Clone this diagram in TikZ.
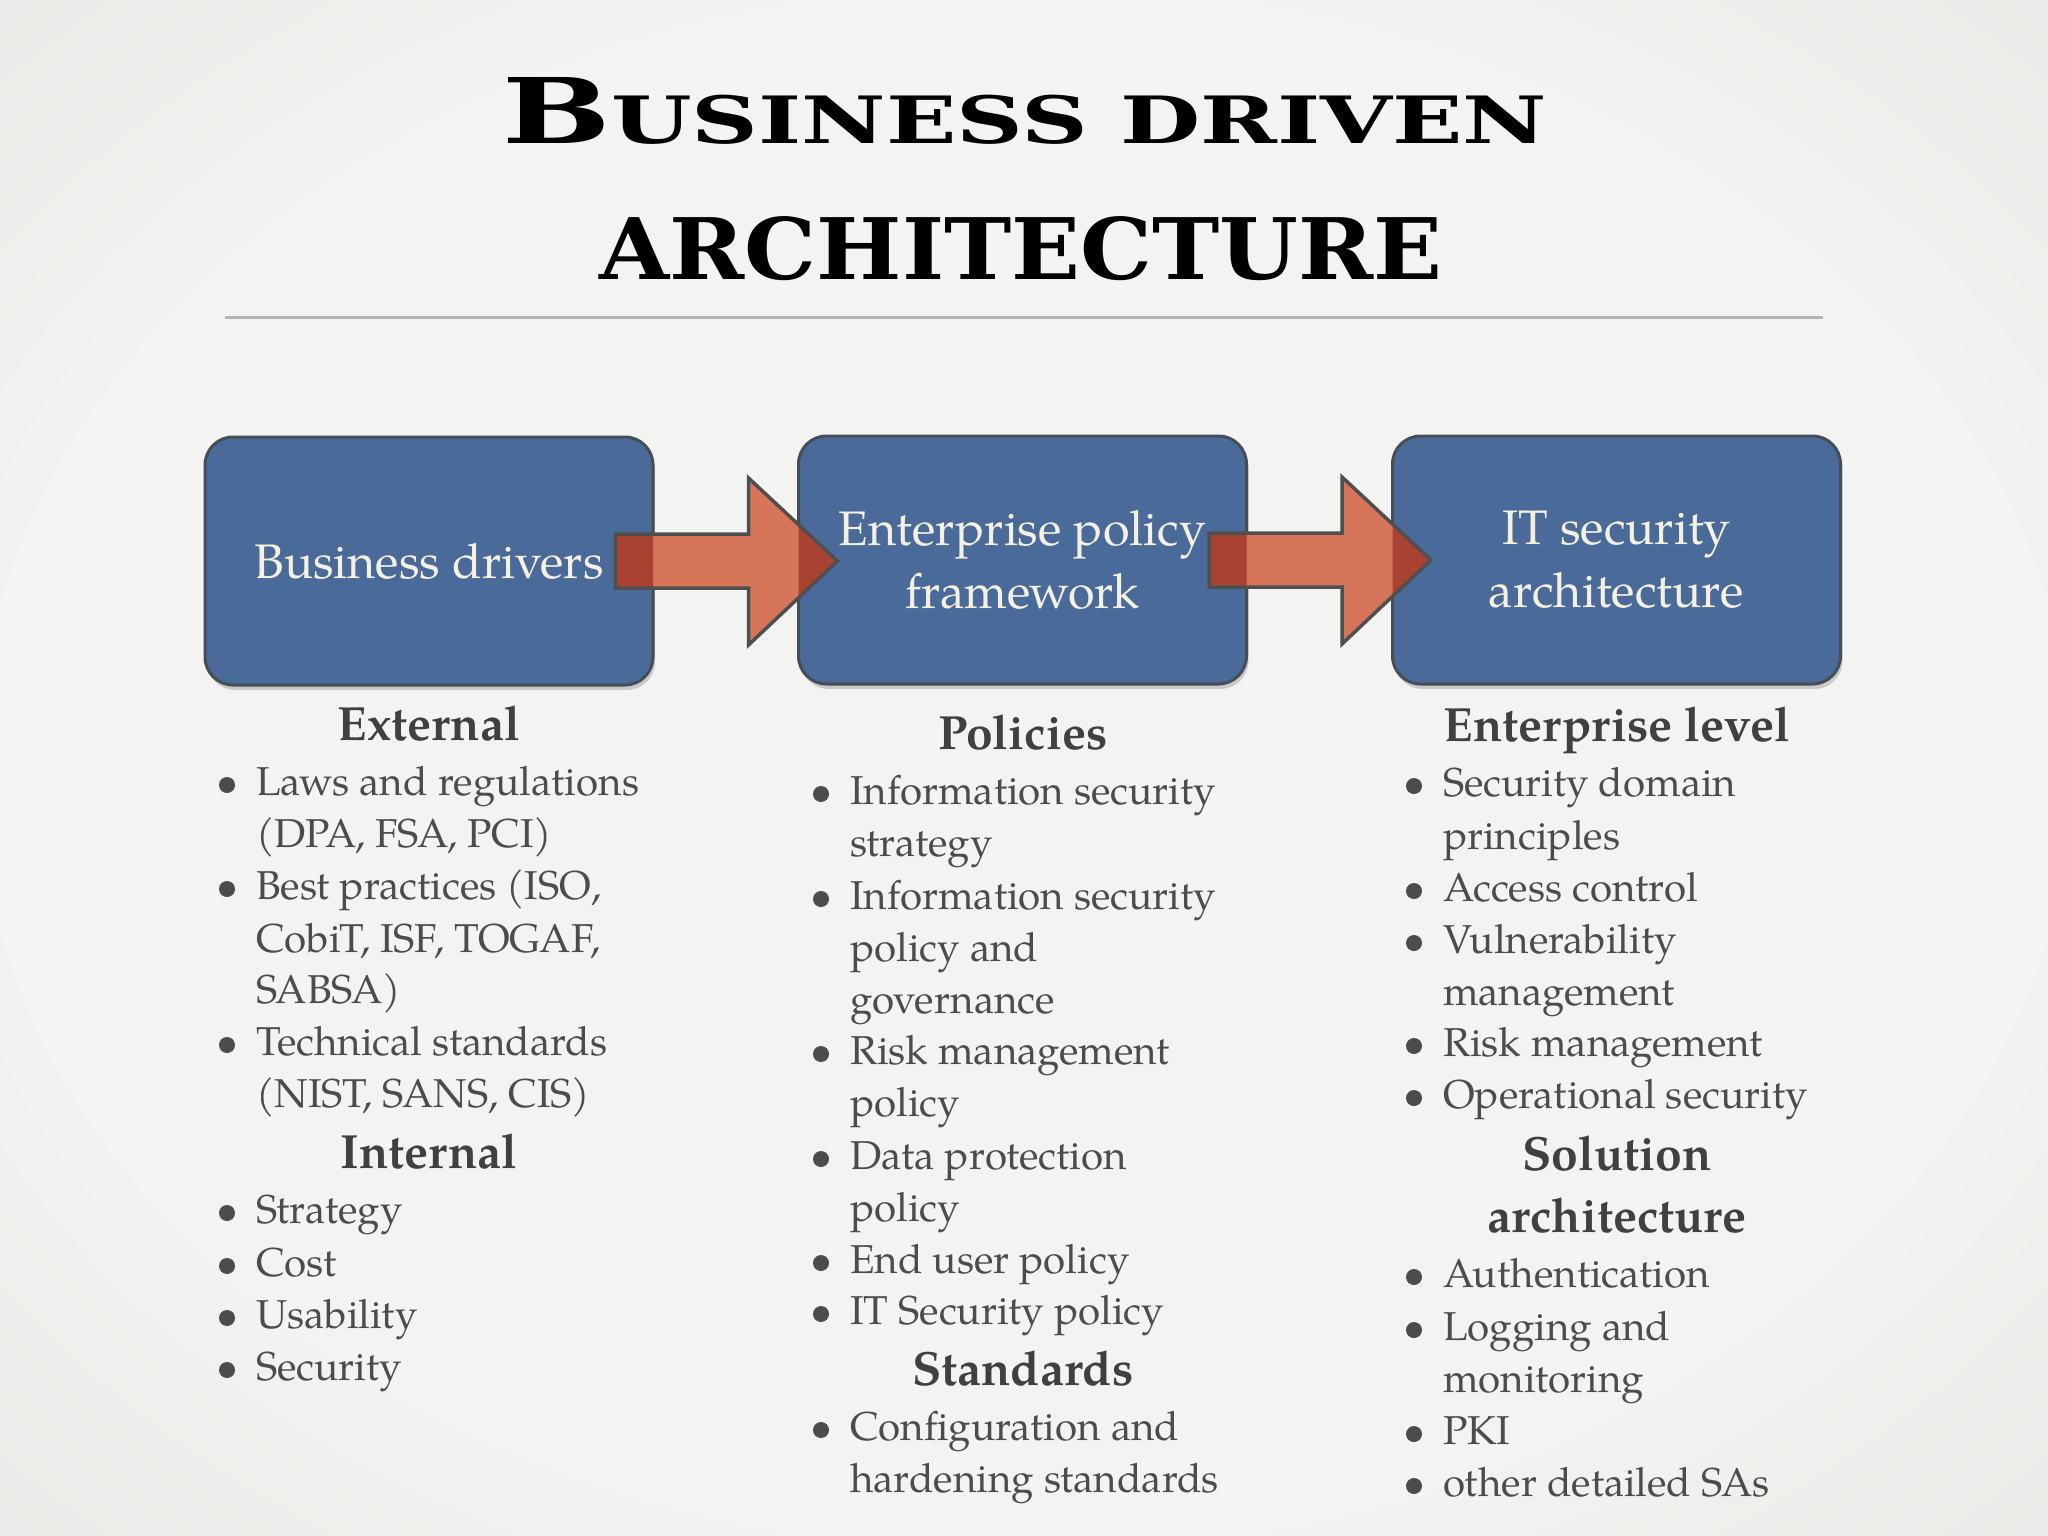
\documentclass[tikz,border=0pt]{standalone}
\usepackage{fontspec}
\setmainfont{TeX Gyre Pagella}
\newfontfamily\titlefont{DejaVu Serif}
\usetikzlibrary{shadows,calc}
\definecolor{bgc}{HTML}{F3F3F1}
\definecolor{bgm}{HTML}{E4E5E1}
\definecolor{bge}{HTML}{C6C8C3}
\definecolor{boxblue}{HTML}{4A6A9A}
\definecolor{boxline}{HTML}{454D57}
\definecolor{arrowc}{HTML}{D6755A}
\definecolor{arrowdark}{HTML}{AA4232}
\definecolor{arrowline}{HTML}{4F4F4F}
\definecolor{boxtext}{HTML}{F4F0E2}
\definecolor{txt}{HTML}{4C4C4C}
\definecolor{headtxt}{HTML}{404040}
\definecolor{rulec}{HTML}{B4B4B2}
\pgfdeclareradialshading{bgshade}{\pgfpoint{0bp}{0bp}}{color(0bp)=(bgc); color(25bp)=(bgc); color(42bp)=(bgm); color(55bp)=(bge); color(72bp)=(bge)}
\newcommand\bodyfont{\fontsize{40.3}{52}\selectfont}
\newcommand\headfont{\fontsize{48}{52}\selectfont\bfseries}
\tikzset{
  bluebox/.style={draw=boxline, line width=3pt, fill=boxblue, rounded corners=28pt,
    minimum width=448pt, minimum height=248pt, align=center, text=boxtext,
    font=\fontsize{48.5}{63}\selectfont,
    drop shadow={opacity=0.35, shadow xshift=2pt, shadow yshift=-5pt}},
  itemtxt/.style={anchor=base west, inner sep=0pt, text=txt, font=\bodyfont},
  headtxt/.style={anchor=base, inner sep=0pt, text=headtxt, font=\headfont},
  dot/.style={circle, fill=txt, minimum size=16pt, inner sep=0pt},
}
% bullet item: name, x, baseline y, text
\newcommand\itm[4]{\node[dot] (#1d) at ({#2-29},{#3-10}) {};
  \node[itemtxt] (#1) at (#2,#3) {#4};}
\newcommand\cnt[4]{\node[itemtxt] (#1) at (#2,#3) {#4};}
\newcommand\blockarrow[2]{%
  \coordinate (s) at ($(#1.east)+(-39,0)$);
  \path[save path=\arrowpath] (s) ++(0,-27) -- ++(133,0) -- ++(0,-56) -- ++(89,83)
     -- ++(-89,84) -- ++(0,-57) -- ++(-133,0) -- cycle;
  \fill[arrowc][use path=\arrowpath];
  \begin{scope}
    \clip[rounded corners=28pt] ($(#1.south west)+(1.5,1.5)$) rectangle ($(#1.north east)+(-1.5,-1.5)$);
    \fill[arrowdark][use path=\arrowpath];
  \end{scope}
  \begin{scope}
    \clip[rounded corners=28pt] ($(#2.south west)+(1.5,1.5)$) rectangle ($(#2.north east)+(-1.5,-1.5)$);
    \fill[arrowdark][use path=\arrowpath];
  \end{scope}
  \draw[arrowline, line width=3.5pt, line join=miter][use path=\arrowpath];
}
\begin{document}
\begin{tikzpicture}[x=1pt, y=-1pt]
\useasboundingbox (0,0) rectangle (2048,1536);
\shade[shading=bgshade] (0,0) rectangle (2048,1536);

% title
\node[anchor=base, inner sep=0pt] (t1) at (1025,144)
  {\resizebox{1045pt}{66pt}{\titlefont\bfseries\fontsize{100}{100}\selectfont B\fontsize{72}{72}\selectfont USINESS DRIVEN}};
\node[anchor=base, inner sep=0pt] (t2) at (1021,279)
  {\resizebox{843pt}{63pt}{\titlefont\bfseries\fontsize{72}{72}\selectfont ARCHITECTURE}};
\coordinate (r1) at (225,317);
\coordinate (r2) at (1823,317);
\draw[rulec, line width=3pt] (r1) -- (r2);

% boxes
\node[bluebox] (b1) at (429,561) {Business drivers};
\node[bluebox] (b2) at (1022.5,560) {Enterprise policy\\framework};
\node[bluebox] (b3) at (1616.5,560) {IT security\\architecture};

% arrows
\blockarrow{b1}{b2}
\blockarrow{b2}{b3}

% column 1
\node[headtxt] (h1) at (429,740) {External};
\itm{a1}{256}{795}{Laws and regulations}
\cnt{a1b}{256}{847}{(DPA, FSA, PCI)}
\itm{a2}{256}{899}{Best practices (ISO,}
\cnt{a2b}{256}{952}{CobiT, ISF, TOGAF,}
\cnt{a2c}{256}{1003}{SABSA)}
\itm{a3}{256}{1055}{Technical standards}
\cnt{a3b}{256}{1107}{(NIST, SANS, CIS)}
\node[headtxt] (h2) at (429,1168) {Internal};
\itm{a4}{256}{1223}{Strategy}
\itm{a5}{256}{1276}{Cost}
\itm{a6}{256}{1328}{Usability}
\itm{a7}{256}{1380}{Security}

% column 2
\node[headtxt] (h3) at (1023,749) {Policies};
\itm{p1}{850}{804}{Information security}
\cnt{p1b}{850}{856}{strategy}
\itm{p2}{850}{909}{Information security}
\cnt{p2b}{850}{961}{policy and}
\cnt{p2c}{850}{1013}{governance}
\itm{p3}{850}{1064}{Risk management}
\cnt{p3b}{850}{1116}{policy}
\itm{p4}{850}{1169}{Data protection}
\cnt{p4b}{850}{1221}{policy}
\itm{p5}{850}{1273}{End user policy}
\itm{p6}{850}{1324}{IT Security policy}
\node[headtxt] (h4) at (1023,1385) {Standards};
\itm{p7}{850}{1440}{Configuration and}
\cnt{p7b}{850}{1492}{hardening standards}

% column 3
\node[headtxt] (h5) at (1617,741) {Enterprise level};
\itm{e1}{1443}{796}{Security domain}
\cnt{e1b}{1443}{849}{principles}
\itm{e2}{1443}{901}{Access control}
\itm{e3}{1443}{953}{Vulnerability}
\cnt{e3b}{1443}{1005}{management}
\itm{e4}{1443}{1056}{Risk management}
\itm{e5}{1443}{1108}{Operational security}
\node[headtxt] (h6) at (1617,1170) {Solution};
\node[headtxt] (h7) at (1617,1232) {architecture};
\itm{e6}{1443}{1287}{Authentication}
\itm{e7}{1443}{1340}{Logging and}
\cnt{e7b}{1443}{1392}{monitoring}
\itm{e8}{1443}{1444}{PKI}
\itm{e9}{1443}{1496}{other detailed SAs}
\end{tikzpicture}
\end{document}
